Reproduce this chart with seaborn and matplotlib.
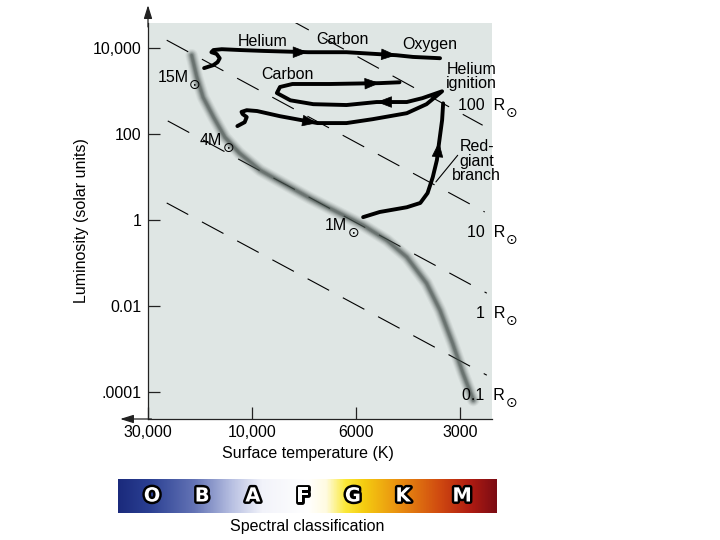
import numpy as np
import seaborn as sns
import matplotlib.pyplot as plt
import matplotlib.patheffects as pe
from matplotlib.colors import LinearSegmentedColormap

# x = position on the (uneven) temperature axis: 0 = 30,000 K, 1 = 10,000 K, 2 = 6000 K, 3 = 3000 K
# y = log10 of luminosity in solar units
temp_ticks = [0, 1, 2, 3]
temp_labels = ["30,000", "10,000", "6000", "3000"]
lum_ticks = [4, 2, 0, -2, -4]
lum_labels = ["10,000", "100", "1", "0.01", ".0001"]

# main sequence band
ms_x = [0.42, 0.47, 0.53, 0.63, 0.74, 0.88, 1.08, 1.30, 1.56, 1.82, 2.07, 2.30,
        2.49, 2.68, 2.81, 2.93, 3.03, 3.13]
ms_logL = [3.84, 3.33, 2.86, 2.40, 1.93, 1.56, 1.16, 0.86, 0.51, 0.19, -0.12, -0.47,
           -0.86, -1.47, -2.10, -2.86, -3.56, -4.19]

# evolutionary tracks
track15_x = [0.54, 0.63, 0.67, 0.69, 0.66, 0.61, 0.63, 0.71, 0.89, 1.11, 1.54, 1.91,
             2.39, 2.55, 2.81]
track15_logL = [3.54, 3.61, 3.68, 3.77, 3.87, 3.91, 3.96, 3.98, 3.96, 3.94, 3.91, 3.91,
                3.84, 3.80, 3.77]

track4_x = [0.86, 0.93, 0.95, 0.91, 0.90, 0.95, 1.05, 1.27, 1.63, 1.91, 2.16, 2.49, 2.68,
            2.83, 2.64, 2.49, 2.20, 1.91, 1.59, 1.37, 1.24, 1.27, 1.39, 1.75, 2.23, 2.42]
track4_logL = [2.19, 2.28, 2.40, 2.47, 2.52, 2.56, 2.54, 2.42, 2.26, 2.26, 2.35, 2.49, 2.70,
               3.00, 2.84, 2.75, 2.75, 2.68, 2.70, 2.79, 2.96, 3.10, 3.17, 3.17, 3.19, 3.21]

rgb_x = [2.07, 2.23, 2.49, 2.62, 2.69, 2.74, 2.78, 2.80, 2.83, 2.84]
rgb_logL = [0.07, 0.19, 0.30, 0.40, 0.63, 1.00, 1.40, 1.79, 2.33, 2.72]

# arrow heads along the tracks (tail -> tip)
arrow_tail_x = [1.32, 2.18, 1.41, 2.42, 2.01, 2.78]
arrow_tail_logL = [3.91, 3.87, 2.35, 2.75, 3.17, 1.35]
arrow_tip_x = [1.54, 2.39, 1.63, 2.20, 2.23, 2.80]
arrow_tip_logL = [3.91, 3.84, 2.26, 2.75, 3.19, 1.82]

# lines of constant radius
radius_labels = ["100", "10", "1", "0.1"]
radius_x0 = [0.18, 0.18, 0.19, 0.18]
radius_logL0 = [6.24, 4.19, 2.31, 0.40]
radius_x1 = [3.22, 3.24, 3.26, 3.26]
radius_logL1 = [2.21, 0.19, -1.70, -3.61]
radius_label_logL = [2.56, -0.40, -2.28, -4.19]

mass_labels = ["15", "4", "1"]
mass_label_x = [0.09, 0.50, 1.70]
mass_label_logL = [3.21, 1.75, -0.23]

burn_labels = ["Helium", "Carbon", "Oxygen", "Carbon"]
burn_x = [1.10, 1.87, 2.71, 1.34]
burn_logL = [4.17, 4.21, 4.10, 3.40]

spectral_classes = ["O", "B", "A", "F", "G", "K", "M"]
spectral_pos = [0.090, 0.222, 0.356, 0.488, 0.620, 0.752, 0.908]
bar_stops = [0.0, 0.08, 0.2, 0.3, 0.38, 0.5, 0.55, 0.6, 0.65, 0.75, 0.85, 0.93, 1.0]
bar_colors = ["#1b2a7c", "#2a3f92", "#6373b5", "#b8c0e2", "#f2f3fa", "#ffffff", "#fffbe0",
              "#fbe93a", "#f5cc10", "#e88a10", "#d04a10", "#b01c12", "#7c0c14"]


def add_sun(ax, txt, dx=2.0, dy=-1.0):
    # solar symbol hung just after the label, below its baseline
    ax.annotate("\u2299", xy=(1, 0), xycoords=txt, xytext=(dx, dy),
                textcoords="offset points", fontsize=10, ha="left", va="center",
                family=["DejaVu Sans"], color="black")


def main():
    sns.set_style("ticks")
    plt.rcParams["font.family"] = ["Liberation Sans", "DejaVu Sans"]
    plt.rcParams["text.color"] = "black"
    plt.rcParams["axes.labelcolor"] = "black"
    plt.rcParams["xtick.color"] = "black"
    plt.rcParams["ytick.color"] = "black"

    fig = plt.figure(figsize=(7.2, 5.4), dpi=100)
    ax = fig.add_axes([148 / 720, 121 / 540, 344 / 720, 396 / 540])
    ax.set_facecolor("#dfe6e4")

    # dashed radius lines
    for x0, y0, x1, y1 in zip(radius_x0, radius_logL0, radius_x1, radius_logL1):
        sns.lineplot(x=[x0, x1], y=[y0, y1], ax=ax, color="black", lw=0.8,
                     linestyle=(0, (22, 14)))

    # blurred main sequence
    for lw, alpha in [(9, 0.07), (7.5, 0.1), (6, 0.15), (4.5, 0.22), (3, 0.32), (1.8, 0.35)]:
        sns.lineplot(x=ms_x, y=ms_logL, ax=ax, sort=False, estimator=None,
                     color="#45504c", lw=lw, alpha=alpha, solid_capstyle="round",
                     solid_joinstyle="round")

    for tx, ty in [(track15_x, track15_logL), (track4_x, track4_logL), (rgb_x, rgb_logL)]:
        sns.lineplot(x=tx, y=ty, ax=ax, sort=False, estimator=None, color="black",
                     lw=2.8, solid_capstyle="round", solid_joinstyle="round")

    for x0, y0, x1, y1 in zip(arrow_tail_x, arrow_tail_logL, arrow_tip_x, arrow_tip_logL):
        ax.annotate("", xy=(x1, y1), xytext=(x0, y0),
                    arrowprops=dict(arrowstyle="-|>,head_length=1.0,head_width=0.38",
                                    mutation_scale=10, color="black", lw=0.5,
                                    shrinkA=0, shrinkB=0))

    # pointer for the red-giant branch label
    ax.plot([2.98, 2.77], [1.51, 0.89], color="black", lw=0.8)

    ax.set_xlim(0, 3.31)
    ax.set_ylim(-4.63, 4.59)
    ax.set_xticks(temp_ticks)
    ax.set_xticklabels(temp_labels)
    ax.set_yticks(lum_ticks)
    ax.set_yticklabels(lum_labels)
    ax.tick_params(direction="in", length=8.5, width=0.9, labelsize=11.5, pad=4.5,
                   color="#222222")
    for side in ["top", "right"]:
        ax.spines[side].set_visible(False)
    for side in ["left", "bottom"]:
        ax.spines[side].set_color("#222222")
        ax.spines[side].set_linewidth(0.9)

    # axis arrows
    head = "-|>,head_length=0.8,head_width=0.25"
    ax.annotate("", xy=(0, 1.045), xytext=(0, 0.99), xycoords="axes fraction",
                arrowprops=dict(arrowstyle=head, mutation_scale=10, color="#222222",
                                lw=0.9, shrinkA=0, shrinkB=0), annotation_clip=False)
    ax.annotate("", xy=(-0.081, 0), xytext=(0.01, 0), xycoords="axes fraction",
                arrowprops=dict(arrowstyle=head, mutation_scale=10, color="#222222",
                                lw=0.9, shrinkA=0, shrinkB=0), annotation_clip=False)

    ax.set_xlabel("Surface temperature (K)", fontsize=11.5, va="center")
    ax.xaxis.set_label_coords(0.465, -0.088)
    ax.set_ylabel("Luminosity (solar units)", fontsize=11.5, va="center")
    ax.yaxis.set_label_coords(-0.192, 0.5)

    # text annotations
    for name, x, y in zip(burn_labels, burn_x, burn_logL):
        ax.text(x, y, name, fontsize=11.5, ha="center", va="center")
    ax.text(3.115, 3.35, "Helium\nignition", fontsize=11.5, ha="center", va="center",
            linespacing=0.95)
    ax.text(3.163, 1.37, "Red-\ngiant\nbranch", fontsize=11.5, ha="center", va="center",
            linespacing=0.95)
    for m, x, y in zip(mass_labels, mass_label_x, mass_label_logL):
        t = ax.text(x, y, m + "M", fontsize=11.5, ha="left", va="baseline")
        add_sun(ax, t, dx=0.5, dy=0.0)
    for r, y in zip(radius_labels, radius_label_logL):
        t = ax.text(3.435, y, r + "  R", fontsize=11.5, ha="right", va="baseline")
        add_sun(ax, t, dx=0.5, dy=0.0)

    # spectral classification bar
    bar = fig.add_axes([118 / 720, 27 / 540, 379 / 720, 34 / 540])
    cmap = LinearSegmentedColormap.from_list("spec", list(zip(bar_stops, bar_colors)))
    bar.imshow(np.linspace(0, 1, 512)[None, :], aspect="auto", cmap=cmap,
               extent=[0, 1, 0, 1])
    bar.set_xlim(0, 1)
    bar.set_ylim(0, 1)
    for c, x in zip(spectral_classes, spectral_pos):
        bar.text(x, 0.5, c, fontsize=14, fontweight="bold", color="white",
                 family=["DejaVu Sans"], ha="center", va="center",
                 path_effects=[pe.withStroke(linewidth=3.5, foreground="black")])
    bar.set_xticks([])
    bar.set_yticks([])
    for s in bar.spines.values():
        s.set_visible(False)
    bar.set_xlabel("Spectral classification", fontsize=11.5, va="center")
    bar.xaxis.set_label_coords(0.5, -0.41)

    fig.savefig("out.png", dpi=100)


if __name__ == "__main__":
    main()
